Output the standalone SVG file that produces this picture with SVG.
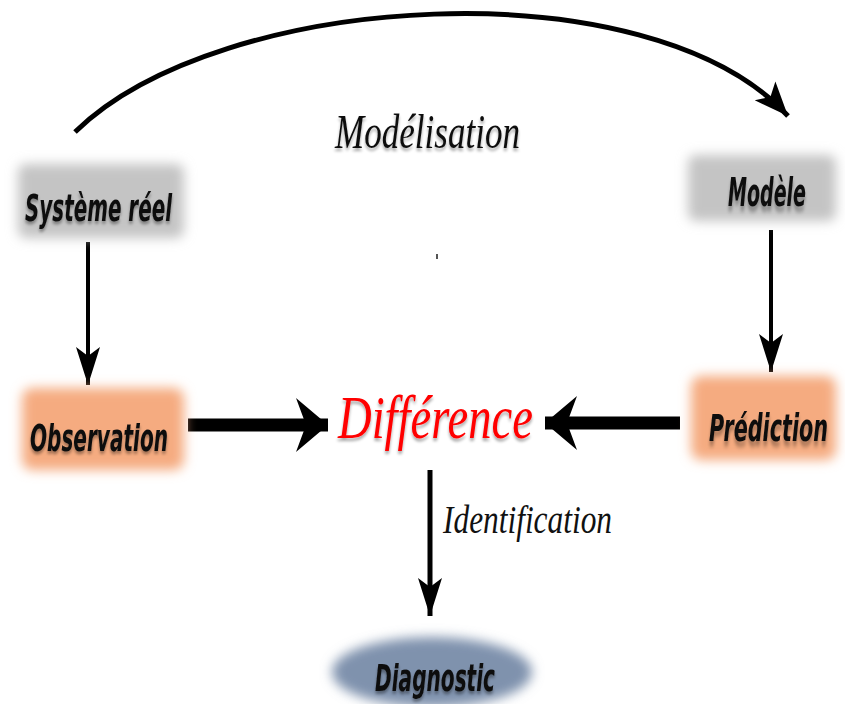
<svg xmlns="http://www.w3.org/2000/svg" width="845" height="704" viewBox="0 0 845 704">
  <defs>
    <style>
      .hand { font-family: "Liberation Sans Narrow", "DejaVu Sans Condensed", "DejaVu Sans", sans-serif; font-stretch: condensed; font-weight: bold; font-style: italic; fill: #111; text-anchor: middle; }
      .serif { font-family: "Liberation Serif", "DejaVu Serif", serif; font-style: italic; fill: #111; }
      .link { fill: none; stroke: #000; }
    </style>
    <filter id="glow" x="-30%" y="-40%" width="160%" height="180%">
      <feGaussianBlur stdDeviation="6"/>
    </filter>
    <filter id="shadow" x="-20%" y="-40%" width="140%" height="190%">
      <feGaussianBlur in="SourceAlpha" stdDeviation="1.5" result="b"/>
      <feOffset dy="3" result="o"/>
      <feComponentTransfer in="o" result="s"><feFuncA type="linear" slope="0.35"/></feComponentTransfer>
      <feMerge><feMergeNode in="s"/><feMergeNode in="SourceGraphic"/></feMerge>
    </filter>
    <marker id="headThin" markerUnits="userSpaceOnUse" viewBox="-40 -16 44 32" refX="0" refY="0" markerWidth="44" markerHeight="32" orient="auto">
      <path d="M0,0 L-38,-12 L-29,0 L-38,12 Z" fill="#000"/>
    </marker>
    <marker id="headArc" markerUnits="userSpaceOnUse" viewBox="-40 -18 44 36" refX="0" refY="0" markerWidth="44" markerHeight="36" orient="auto">
      <path d="M0,0 L-34,-14 L-26,0 L-34,14 Z" fill="#000"/>
    </marker>
    <marker id="headThick" markerUnits="userSpaceOnUse" viewBox="-40 -30 44 60" refX="0" refY="0" markerWidth="44" markerHeight="60" orient="auto">
      <path d="M0,0 L-32,-27 L-22,0 L-32,27 Z" fill="#000"/>
    </marker>
  </defs>

  <rect width="845" height="704" fill="#fff"/>

  <!-- connectors -->
  <g id="connectors">
    <path class="link" d="M75,132 C220,-10 650,-35 788,116" stroke-width="5" marker-end="url(#headArc)"/>
    <path class="link" d="M88,242 L88,385" stroke-width="4" marker-end="url(#headThin)"/>
    <path class="link" d="M771,230 L771,372" stroke-width="4" marker-end="url(#headThin)"/>
    <path class="link" d="M188,425 L328,425" stroke-width="13" marker-end="url(#headThick)"/>
    <path class="link" d="M680,423 L545,423" stroke-width="13" marker-end="url(#headThick)"/>
    <path class="link" d="M430,470 L430,616" stroke-width="5" marker-end="url(#headThin)"/>
  </g>

  <!-- labels on the links -->
  <text class="serif" x="335" y="148" font-size="48" textLength="185" lengthAdjust="spacingAndGlyphs" filter="url(#shadow)">Modélisation</text>
  <text class="serif" x="443" y="533" font-size="40" textLength="169" lengthAdjust="spacingAndGlyphs">Identification</text>
  <rect x="436" y="254" width="2" height="5" fill="#555"/>

  <g id="systeme-reel">
    <rect x="18" y="164" width="166" height="74" rx="8" fill="#c4c4c4" filter="url(#glow)"/>
    <text class="hand" x="98.5" y="221" font-size="38" textLength="147" lengthAdjust="spacingAndGlyphs" filter="url(#shadow)">Système réel</text>
  </g>

  <g id="modele">
    <rect x="688" y="155" width="148" height="66" rx="8" fill="#c4c4c4" filter="url(#glow)"/>
    <!-- smaller glyphs stretched upward, so the natural run stays inside the frame -->
    <text class="hand" transform="translate(767,206) scale(1,1.6)" x="0" y="0" font-size="24" textLength="78" lengthAdjust="spacingAndGlyphs" filter="url(#shadow)">Modèle</text>
  </g>

  <g id="observation">
    <rect x="22" y="388" width="162" height="82" rx="10" fill="#f5ab80" filter="url(#glow)"/>
    <text class="hand" x="99" y="451" font-size="38" textLength="138" lengthAdjust="spacingAndGlyphs" filter="url(#shadow)">Observation</text>
  </g>

  <g id="prediction">
    <rect x="691" y="376" width="145" height="84" rx="10" fill="#f5ab80" filter="url(#glow)"/>
    <text class="hand" transform="translate(768.5,441) scale(1,1.6)" x="0" y="0" font-size="23" textLength="119" lengthAdjust="spacingAndGlyphs" filter="url(#shadow)">Prédiction</text>
  </g>

  <g id="difference">
    <text x="338" y="438" font-family="Liberation Serif, DejaVu Serif, serif" font-style="italic" font-size="62" fill="#f00" textLength="195" lengthAdjust="spacingAndGlyphs" filter="url(#shadow)">Différence</text>
  </g>

  <g id="diagnostic">
    <ellipse cx="432" cy="672" rx="100" ry="35" fill="#7f92ad" filter="url(#glow)"/>
    <text class="hand" x="435" y="691" font-size="38" textLength="120" lengthAdjust="spacingAndGlyphs" filter="url(#shadow)">Diagnostic</text>
  </g>
</svg>
